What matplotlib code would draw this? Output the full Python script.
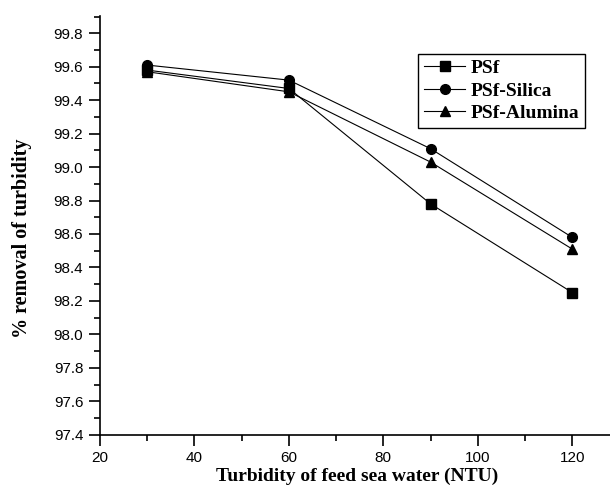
import numpy as np
import matplotlib.pyplot as plt
from matplotlib.ticker import MultipleLocator

turbidity = [30, 60, 90, 120]
psf = [99.58, 99.47, 98.78, 98.25]
psf_silica = [99.61, 99.52, 99.11, 98.58]
psf_alumina = [99.57, 99.45, 99.03, 98.51]

fig = plt.figure(figsize=(6.1, 4.97), dpi=100)
ax = fig.add_axes([0.164, 0.1254, 0.836, 0.8426])

ax.plot(turbidity, psf, color='black', linewidth=0.8, marker='s', markersize=6.5, label='PSf')
ax.plot(turbidity, psf_silica, color='black', linewidth=0.8, marker='o', markersize=7, label='PSf-Silica')
ax.plot(turbidity, psf_alumina, color='black', linewidth=0.8, marker='^', markersize=7, label='PSf-Alumina')

ax.set_xlim(20, 128)
ax.set_ylim(97.4, 99.904)
ax.xaxis.set_major_locator(MultipleLocator(20))
ax.xaxis.set_minor_locator(MultipleLocator(10))
ax.yaxis.set_major_locator(MultipleLocator(0.2))
ax.yaxis.set_minor_locator(MultipleLocator(0.1))
ax.yaxis.set_major_formatter(plt.FuncFormatter(lambda v, p: '%.1f' % v))

for s in ['top', 'right']:
    ax.spines[s].set_visible(False)
for s in ['left', 'bottom']:
    ax.spines[s].set_linewidth(1.2)

ax.tick_params(which='major', direction='out', length=8, width=1.2, pad=4,
               labelsize=11, labelfontfamily='Liberation Sans')
ax.tick_params(which='minor', direction='out', length=4, width=1.2)

serif_bold = dict(family='Liberation Serif', weight='bold', size=14)
ax.set_xlabel('Turbidity of feed sea water (NTU)', fontdict=serif_bold)
ax.set_ylabel('% removal of turbidity', fontdict=dict(serif_bold, size=14.5))
ax.xaxis.set_label_coords(0.505, -0.078)
ax.yaxis.set_label_coords(-0.133, 0.47)

leg = ax.legend(loc='upper left', bbox_to_anchor=(0.624, 0.91),
                prop=dict(family='Liberation Serif', weight='bold', size=14),
                frameon=True, fancybox=False, edgecolor='black', framealpha=1,
                handlelength=2.1, handletextpad=0.3, borderpad=0.3,
                labelspacing=0.25, borderaxespad=0)
leg.get_frame().set_linewidth(1.0)

fig.savefig('out.png', dpi=100)
